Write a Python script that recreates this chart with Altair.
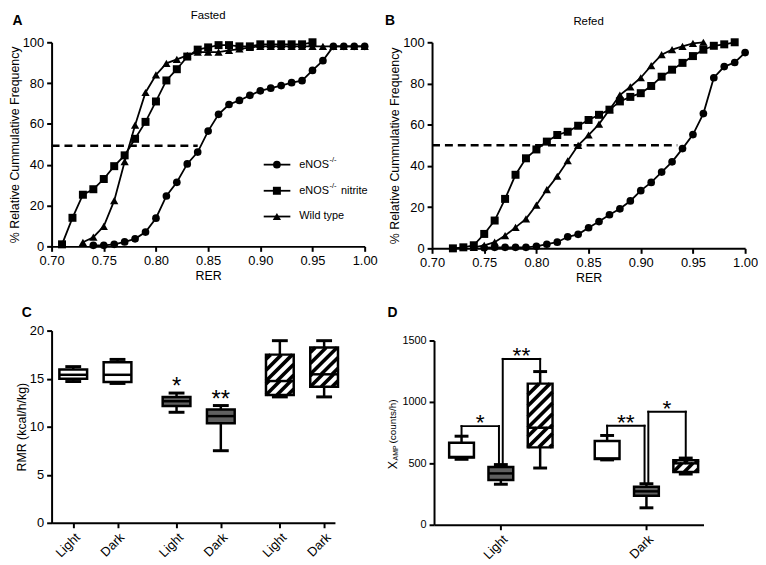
import altair as alt
import pandas as pd
import numpy as np

FONT = "Liberation Sans"
SERIES = ["eNOS-/-", "eNOS-/- nitrite", "Wild type"]

# ---------------- Panel A : Fasted ----------------
A_enos_rer = [0.74, 0.75, 0.76, 0.77, 0.78, 0.79, 0.80, 0.81, 0.82, 0.83, 0.84, 0.85, 0.86, 0.87,
              0.88, 0.89, 0.90, 0.91, 0.92, 0.93, 0.94, 0.95, 0.96, 0.97, 0.98, 0.99, 1.00]
A_enos_pct = [0.5, 0.5, 1.0, 2.2, 3.7, 7.0, 13.8, 24.7, 31.4, 40.4, 46.2, 56.5, 64.7, 69.5,
              71.5, 74.0, 76.2, 77.5, 78.8, 80.2, 81.2, 86.2, 91.0, 98.0, 98.0, 98.0, 98.0]
A_nitrite_rer = [0.71, 0.72, 0.73, 0.74, 0.75, 0.76, 0.77, 0.78, 0.79, 0.80, 0.81, 0.82, 0.83,
                 0.84, 0.85, 0.86, 0.87, 0.88, 0.89, 0.90, 0.91, 0.92, 0.93, 0.94, 0.95]
A_nitrite_pct = [1.0, 14.0, 25.3, 28.0, 33.0, 39.3, 44.6, 52.7, 61.0, 71.0, 81.3, 86.8, 93.0,
                 96.4, 97.5, 98.6, 98.6, 98.0, 98.0, 99.0, 99.0, 99.0, 99.0, 99.0, 100.0]
A_wt_rer = [0.73, 0.74, 0.75, 0.76, 0.77, 0.78, 0.79, 0.80, 0.81, 0.82, 0.83, 0.84, 0.85, 0.86,
            0.87, 0.88, 0.89, 0.90, 0.91, 0.92, 0.93, 0.94, 0.95, 0.96, 0.97, 0.98, 0.99, 1.00]
A_wt_pct = [2.0, 4.5, 9.8, 22.4, 41.5, 59.4, 75.4, 84.0, 89.7, 91.6, 93.6, 95.2, 95.2, 95.2,
            96.0, 96.7, 97.5, 98.0, 98.0, 98.0, 98.0, 98.0, 98.0, 98.0, 98.0, 98.0, 98.0, 98.0]
A_dash_rer = [0.70, 0.84]
A_dash_pct = 49.3

# ---------------- Panel B : Refed ----------------
B_enos_rer = [0.75, 0.76, 0.77, 0.78, 0.79, 0.80, 0.81, 0.82, 0.83, 0.84, 0.85, 0.86, 0.87,
              0.88, 0.89, 0.90, 0.91, 0.92, 0.93, 0.94, 0.95, 0.96, 0.97, 0.98, 0.99, 1.00]
B_enos_pct = [0.3, 0.5, 0.5, 0.5, 0.5, 1.0, 2.0, 3.0, 5.6, 6.8, 10.0, 13.0, 16.3,
              19.2, 23.0, 28.0, 32.0, 37.0, 42.0, 48.4, 55.2, 65.4, 82.8, 88.2, 90.2, 95.0]
B_nitrite_rer = [0.72, 0.73, 0.74, 0.75, 0.76, 0.77, 0.78, 0.79, 0.80, 0.81, 0.82, 0.83, 0.84,
                 0.85, 0.86, 0.87, 0.88, 0.89, 0.90, 0.91, 0.92, 0.93, 0.94, 0.95, 0.96, 0.97,
                 0.98, 0.99]
B_nitrite_pct = [0.0, 0.5, 1.5, 7.0, 13.5, 24.0, 35.7, 43.7, 48.0, 51.8, 55.0, 56.6, 59.5,
                 62.3, 64.8, 67.3, 71.3, 73.5, 75.3, 78.8, 83.3, 86.7, 90.0, 93.3, 96.4, 98.3,
                 99.0, 100.0]
B_wt_rer = [0.74, 0.75, 0.76, 0.77, 0.78, 0.79, 0.80, 0.81, 0.82, 0.83, 0.84, 0.85, 0.86,
            0.87, 0.88, 0.89, 0.90, 0.91, 0.92, 0.93, 0.94, 0.95, 0.96]
B_wt_pct = [0.5, 1.5, 3.0, 6.2, 10.2, 14.3, 21.0, 28.5, 35.0, 42.5, 50.0, 55.0, 60.3,
            67.3, 74.4, 78.4, 82.8, 88.7, 94.0, 96.4, 98.0, 99.5, 100.0]
B_dash_rer = [0.70, 0.935]
B_dash_pct = 50.0

RER_TICKS = [0.70, 0.75, 0.80, 0.85, 0.90, 0.95, 1.00]
PCT_TICKS = [0, 20, 40, 60, 80, 100]

# ---------------- Panel C : RMR ----------------
GROUPS = ["Wild type", "eNOS-/-", "eNOS-/- nitrite"]
C_group = ["Wild type", "Wild type", "eNOS-/-", "eNOS-/-", "eNOS-/- nitrite", "eNOS-/- nitrite"]
C_period = ["Light", "Dark", "Light", "Dark", "Light", "Dark"]
C_min = [14.7, 14.5, 11.5, 7.5, 13.1, 13.1]
C_q1 = [15.0, 14.65, 12.15, 10.35, 13.3, 14.15]
C_med = [15.4, 15.4, 12.65, 11.1, 14.75, 15.45]
C_q3 = [15.95, 16.7, 13.1, 11.8, 17.5, 18.25]
C_max = [16.25, 17.0, 13.5, 12.2, 18.95, 18.95]
C_sig = ["", "", "*", "**", "", ""]
C_TICKS = [0, 5, 10, 15, 20]

# ---------------- Panel D : XAMP ----------------
D_group = ["Wild type", "eNOS-/-", "eNOS-/- nitrite", "Wild type", "eNOS-/-", "eNOS-/- nitrite"]
D_period = ["Light", "Light", "Light", "Dark", "Dark", "Dark"]
D_min = [533, 330, 462, 528, 138, 413]
D_q1 = [548, 364, 630, 535, 237, 430]
D_med = [552, 418, 790, 540, 272, 500]
D_q3 = [668, 470, 1149, 681, 309, 525]
D_max = [721, 490, 1247, 727, 334, 543]
D_br_left = [0, 1, 3, 4]
D_br_right = [1, 2, 4, 5]
D_br_top = [803, 1350, 806, 920]
D_br_label = ["*", "**", "**", "*"]
D_TICKS = [0, 500, 1000, 1500]

# ---------------- layout constants ----------------
WA, HA = 316, 206
WB, HB = 316, 208
WC, HC = 286, 194
WD, HD = 272, 196
D_TOP = 10

BLACK = "black"
GRAY = "#606060"


def txt(text, x, y, size, weight="normal", align="left", baseline="alphabetic", angle=0):
    kw = dict(font=FONT, fontSize=size, fontWeight=weight, align=align, baseline=baseline,
              color=BLACK)
    if angle:
        kw["angle"] = angle
    return alt.Chart(pd.DataFrame({"t": [text]})).mark_text(**kw).encode(
        x=alt.value(x), y=alt.value(y), text="t:N")


def long_df(parts):
    rows = []
    for name, xs, ys in parts:
        for x, y in zip(xs, ys):
            rows.append({"series": name, "rer": x, "pct": y})
    return pd.DataFrame(rows)


def legend_layers(W, H):
    sy = H / 214.0
    sx = W / 321.0
    ys = [128.3 * sy, 155.7 * sy, 182.7 * sy]
    lx1, lx2, mx, tx = 217.5 * sx, 244.8 * sx, 231.0 * sx, 254.0 * sx
    leg = pd.DataFrame({"series": SERIES, "ly": ys, "lx1": [lx1] * 3, "lx2": [lx2] * 3,
                        "mx": [mx] * 3})
    rule = alt.Chart(leg).mark_rule(color=BLACK, strokeWidth=1.8).encode(
        x=alt.X("lx1:Q", scale=None), x2="lx2", y=alt.Y("ly:Q", scale=None))
    pts = alt.Chart(leg).mark_point(filled=True, color=BLACK, opacity=1).encode(
        x=alt.X("mx:Q", scale=None), y=alt.Y("ly:Q", scale=None),
        shape=alt.Shape("series:N", scale=alt.Scale(domain=SERIES, range=["circle", "square", "triangle-up"]), legend=None),
        size=alt.Size("series:O", scale=alt.Scale(domain=SERIES, range=[60, 70, 85]), legend=None))
    main = pd.DataFrame({"t": ["eNOS", "eNOS", "nitrite", "Wild type"],
                         "x": [tx, tx, tx + 42, tx], "y": [ys[0], ys[1], ys[1], ys[2]]})
    sup = pd.DataFrame({"t": ["-/-", "-/-"], "x": [tx + 30.5, tx + 30.5],
                        "y": [ys[0] - 4.5, ys[1] - 4.5]})
    t1 = alt.Chart(main).mark_text(font=FONT, fontSize=11, align="left", baseline="middle",
                                   color=BLACK).encode(
        x=alt.X("x:Q", scale=None), y=alt.Y("y:Q", scale=None), text="t:N")
    t2 = alt.Chart(sup).mark_text(font=FONT, fontSize=7.5, align="left", baseline="middle",
                                  color=BLACK).encode(
        x=alt.X("x:Q", scale=None), y=alt.Y("y:Q", scale=None), text="t:N")
    return [rule, pts, t1, t2]


def curve_panel(df, dash_x, dash_level, W, H, letter, letter_x, title, title_y, legend):
    xsc = alt.Scale(domain=[0.70, 1.00], nice=False, zero=False)
    ysc = alt.Scale(domain=[0, 100], nice=False)
    xax = alt.Axis(values=RER_TICKS, format=".2f", title="RER", titlePadding=2)
    yax = alt.Axis(values=PCT_TICKS, title="% Relative Cummulative Frequency", titlePadding=1)

    def X(f):
        return alt.X(f + ":Q", scale=xsc, axis=xax)

    def Y(f):
        return alt.Y(f + ":Q", scale=ysc, axis=yax)

    lines = alt.Chart(df).mark_line(color=BLACK, strokeWidth=1.8).encode(
        x=X("rer"), y=Y("pct"), detail="series:N")
    pts = alt.Chart(df).mark_point(filled=True, color=BLACK, opacity=1).encode(
        x=X("rer"), y=Y("pct"),
        shape=alt.Shape("series:N", scale=alt.Scale(domain=SERIES, range=["circle", "square", "triangle-up"]), legend=None),
        size=alt.Size("series:O", scale=alt.Scale(domain=SERIES, range=[60, 70, 85]), legend=None))
    dash = alt.Chart(pd.DataFrame({"x1": [dash_x[0]], "x2": [dash_x[1]], "y": [dash_level]})).mark_rule(
        color=BLACK, strokeWidth=2.5, strokeDash=[8, 5]).encode(x=X("x1"), x2="x2", y=Y("y"))
    layers = [lines, pts, dash,
              txt(letter, letter_x, -17, 14, weight="bold"),
              txt(title, W / 2, title_y, 11.5, align="center")]
    if legend:
        layers += legend_layers(W, H)
    return alt.layer(*layers).properties(width=W, height=H)


def hatch_df(box, kx, ky, period=11.0):
    rows = []
    for _, r in box.iterrows():
        if r["group"] != GROUPS[2]:
            continue
        for lo, hi in [(r["q1"], r["med"]), (r["med"], r["q3"])]:
            x0, y0 = r["bl"], lo
            w = (r["br"] - r["bl"]) * kx
            h = (hi - lo) * ky
            k0 = int(np.floor(-h / period))
            k1 = int(np.ceil(w / period))
            for k in range(k0, k1 + 1):
                d = k * period
                u1 = max(0.0, d)
                u2 = min(w, h + d)
                if u2 - u1 > 0.8:
                    rows.append({"hx": x0 + u1 / kx, "hy": y0 + (u1 - d) / ky,
                                 "hx2": x0 + u2 / kx, "hy2": y0 + (u2 - d) / ky})
    return pd.DataFrame(rows)


def box_layers(box, X, Y, kx, ky):
    base = alt.Chart(box)
    fill = alt.Fill("group:N", scale=alt.Scale(domain=GROUPS, range=["white", GRAY, "white"]),
                    legend=None)
    layers = [
        base.mark_rule(color=BLACK, strokeWidth=2.5).encode(x=X("pos"), y=Y("wmin"), y2="q1"),
        base.mark_rule(color=BLACK, strokeWidth=2.5).encode(x=X("pos"), y=Y("q3"), y2="wmax"),
        base.mark_rule(color=BLACK, strokeWidth=3).encode(x=X("cl"), x2="cr", y=Y("wmin")),
        base.mark_rule(color=BLACK, strokeWidth=3).encode(x=X("cl"), x2="cr", y=Y("wmax")),
        base.mark_rect().encode(x=X("bl"), x2="br", y=Y("q1"), y2="q3", fill=fill),
        alt.Chart(hatch_df(box, kx, ky)).mark_rule(color=BLACK, strokeWidth=3.6).encode(
            x=X("hx"), y=Y("hy"), x2="hx2", y2="hy2"),
        base.mark_rule(color=BLACK, strokeWidth=2.5).encode(x=X("bl"), x2="br", y=Y("med")),
        base.mark_rect(fill="white", fillOpacity=0, stroke=BLACK, strokeWidth=2.5).encode(
            x=X("bl"), x2="br", y=Y("q1"), y2="q3"),
    ]
    return layers


# ---------------- build panels ----------------
dfA = long_df([("Wild type", A_wt_rer, A_wt_pct), ("eNOS-/-", A_enos_rer, A_enos_pct),
               ("eNOS-/- nitrite", A_nitrite_rer, A_nitrite_pct)])
dfB = long_df([("eNOS-/-", B_enos_rer, B_enos_pct), ("Wild type", B_wt_rer, B_wt_pct),
               ("eNOS-/- nitrite", B_nitrite_rer, B_nitrite_pct)])

panelA = curve_panel(dfA, A_dash_rer, A_dash_pct, WA, HA, "A", -39.5, "Fasted", -23, True)
panelB = curve_panel(dfB, B_dash_rer, B_dash_pct, WB, HB, "B", -47.5, "Refed", -17, False)

# Panel C
C_dom = [-22 / 45, 6.4 - 22 / 45]
kxC = WC / (C_dom[1] - C_dom[0])
kyC = HC / 20.0
boxC = pd.DataFrame({"group": C_group, "period": C_period, "wmin": C_min, "q1": C_q1,
                     "med": C_med, "q3": C_q3, "wmax": C_max, "sig": C_sig})
boxC["pos"] = [GROUPS.index(g) * 7 / 3 + (0 if p == "Light" else 1)
               for g, p in zip(boxC["group"], boxC["period"])]
boxC["bl"] = boxC["pos"] - 14 / kxC
boxC["br"] = boxC["pos"] + 14 / kxC
boxC["cl"] = boxC["pos"] - 8 / kxC
boxC["cr"] = boxC["pos"] + 8 / kxC

xscC = alt.Scale(domain=C_dom, nice=False, zero=False)
yscC = alt.Scale(domain=[0, 20], nice=False)
xaxC = alt.Axis(values=sorted(boxC["pos"].tolist()), labelAngle=-45, title=None,
                labelExpr="(round(datum.value*3) % 7 == 0) ? 'Light' : 'Dark'")
yaxC = alt.Axis(values=C_TICKS, title="RMR (kcal/h/kg)", titlePadding=1)


def XC(f):
    return alt.X(f + ":Q", scale=xscC, axis=xaxC)


def YC(f):
    return alt.Y(f + ":Q", scale=yscC, axis=yaxC)


starsC = alt.Chart(boxC[boxC["sig"] != ""]).mark_text(
    font=FONT, fontSize=24, align="center", baseline="alphabetic", dy=1, color=BLACK).encode(
    x=XC("pos"), y=YC("wmax"), text="sig:N")
panelC = alt.layer(*box_layers(boxC, XC, YC, kxC, kyC), starsC,
                   txt("C", -30, -14, 14, weight="bold")).properties(width=WC, height=HC)

# Panel D
D_dom = [-0.459, 1.392]
kxD = WD / (D_dom[1] - D_dom[0])
kyD = (HD - D_TOP) / 1500.0
boxD = pd.DataFrame({"group": D_group, "period": D_period, "wmin": D_min, "q1": D_q1,
                     "med": D_med, "q3": D_q3, "wmax": D_max})
boxD["pos"] = [(0 if p == "Light" else 1) + (GROUPS.index(g) - 1) * 0.27
               for g, p in zip(boxD["group"], boxD["period"])]
boxD["bl"] = boxD["pos"] - 12.5 / kxD
boxD["br"] = boxD["pos"] + 12.5 / kxD
boxD["cl"] = boxD["pos"] - 7 / kxD
boxD["cr"] = boxD["pos"] + 7 / kxD

used = D_br_left + D_br_right
shared = {i for i in used if used.count(i) > 1}
seg_rows, star_rows = [], []
for li, ri, top, lab in zip(D_br_left, D_br_right, D_br_top, D_br_label):
    lx = boxD["pos"][li] + (0.013 if li in shared else 0)
    rx = boxD["pos"][ri] - (0.013 if ri in shared else 0)
    seg_rows.append({"sx": lx, "sy": boxD["wmax"][li], "sx2": lx, "sy2": top})
    seg_rows.append({"sx": lx, "sy": top, "sx2": rx, "sy2": top})
    seg_rows.append({"sx": rx, "sy": boxD["wmax"][ri], "sx2": rx, "sy2": top})
    star_rows.append({"sx": (lx + rx) / 2, "sy": top, "lab": lab})
segD = pd.DataFrame(seg_rows)
starD = pd.DataFrame(star_rows)

xscD = alt.Scale(domain=D_dom, nice=False, zero=False)
yscD = alt.Scale(domain=[0, 1500], range=[HD, D_TOP], nice=False)
xaxD = alt.Axis(values=[0, 1], labelAngle=-45, title=None,
                labelExpr="datum.value == 0 ? 'Light' : 'Dark'")
yaxD = alt.Axis(values=D_TICKS, title=None, format="d", labelFontSize=11)


def XD(f):
    return alt.X(f + ":Q", scale=xscD, axis=xaxD)


def YD(f):
    return alt.Y(f + ":Q", scale=yscD, axis=yaxD)


bracketsD = alt.Chart(segD).mark_rule(color=BLACK, strokeWidth=2, strokeCap="square").encode(
    x=XD("sx"), y=YD("sy"), x2="sx2", y2="sy2")
starsD = alt.Chart(starD).mark_text(font=FONT, fontSize=23, align="center", baseline="alphabetic",
                                     dy=4, color=BLACK).encode(
    x=XD("sx"), y=YD("sy"), text="lab:N")
panelD = alt.layer(*box_layers(boxD, XD, YD, kxD, kyD), bracketsD, starsD,
                   txt("D", -47, -14, 14, weight="bold"),
                   txt("X", -41.5, HD - 56, 12.5, baseline="middle", angle=270),
                   txt("AMP", -38.5, HD - 65, 7, baseline="middle", angle=270),
                   txt("(counts/h)", -41.5, HD - 82, 10, baseline="middle", angle=270),
                   ).properties(width=WD, height=HD)

top = alt.hconcat(panelA, panelB, spacing=68, bounds="flush")
bottom = alt.hconcat(panelC, panelD, spacing=100, bounds="flush")

chart = alt.ConcatChart(concat=[top, bottom], columns=1, align="none", spacing=22).properties(
    padding=0).configure_view(stroke=None).configure_axis(
    domainColor=BLACK, domainWidth=2, tickColor=BLACK, tickWidth=2, tickSize=5, labelPadding=3,
    labelFont=FONT, labelFontSize=13, labelColor=BLACK, titleFont=FONT, titleFontSize=12.5,
    titleFontWeight="normal", titleColor=BLACK, grid=False, labelFlush=False, labelOverlap=False)

chart.save("out.html", embed_options={"renderer": "svg", "actions": False})
